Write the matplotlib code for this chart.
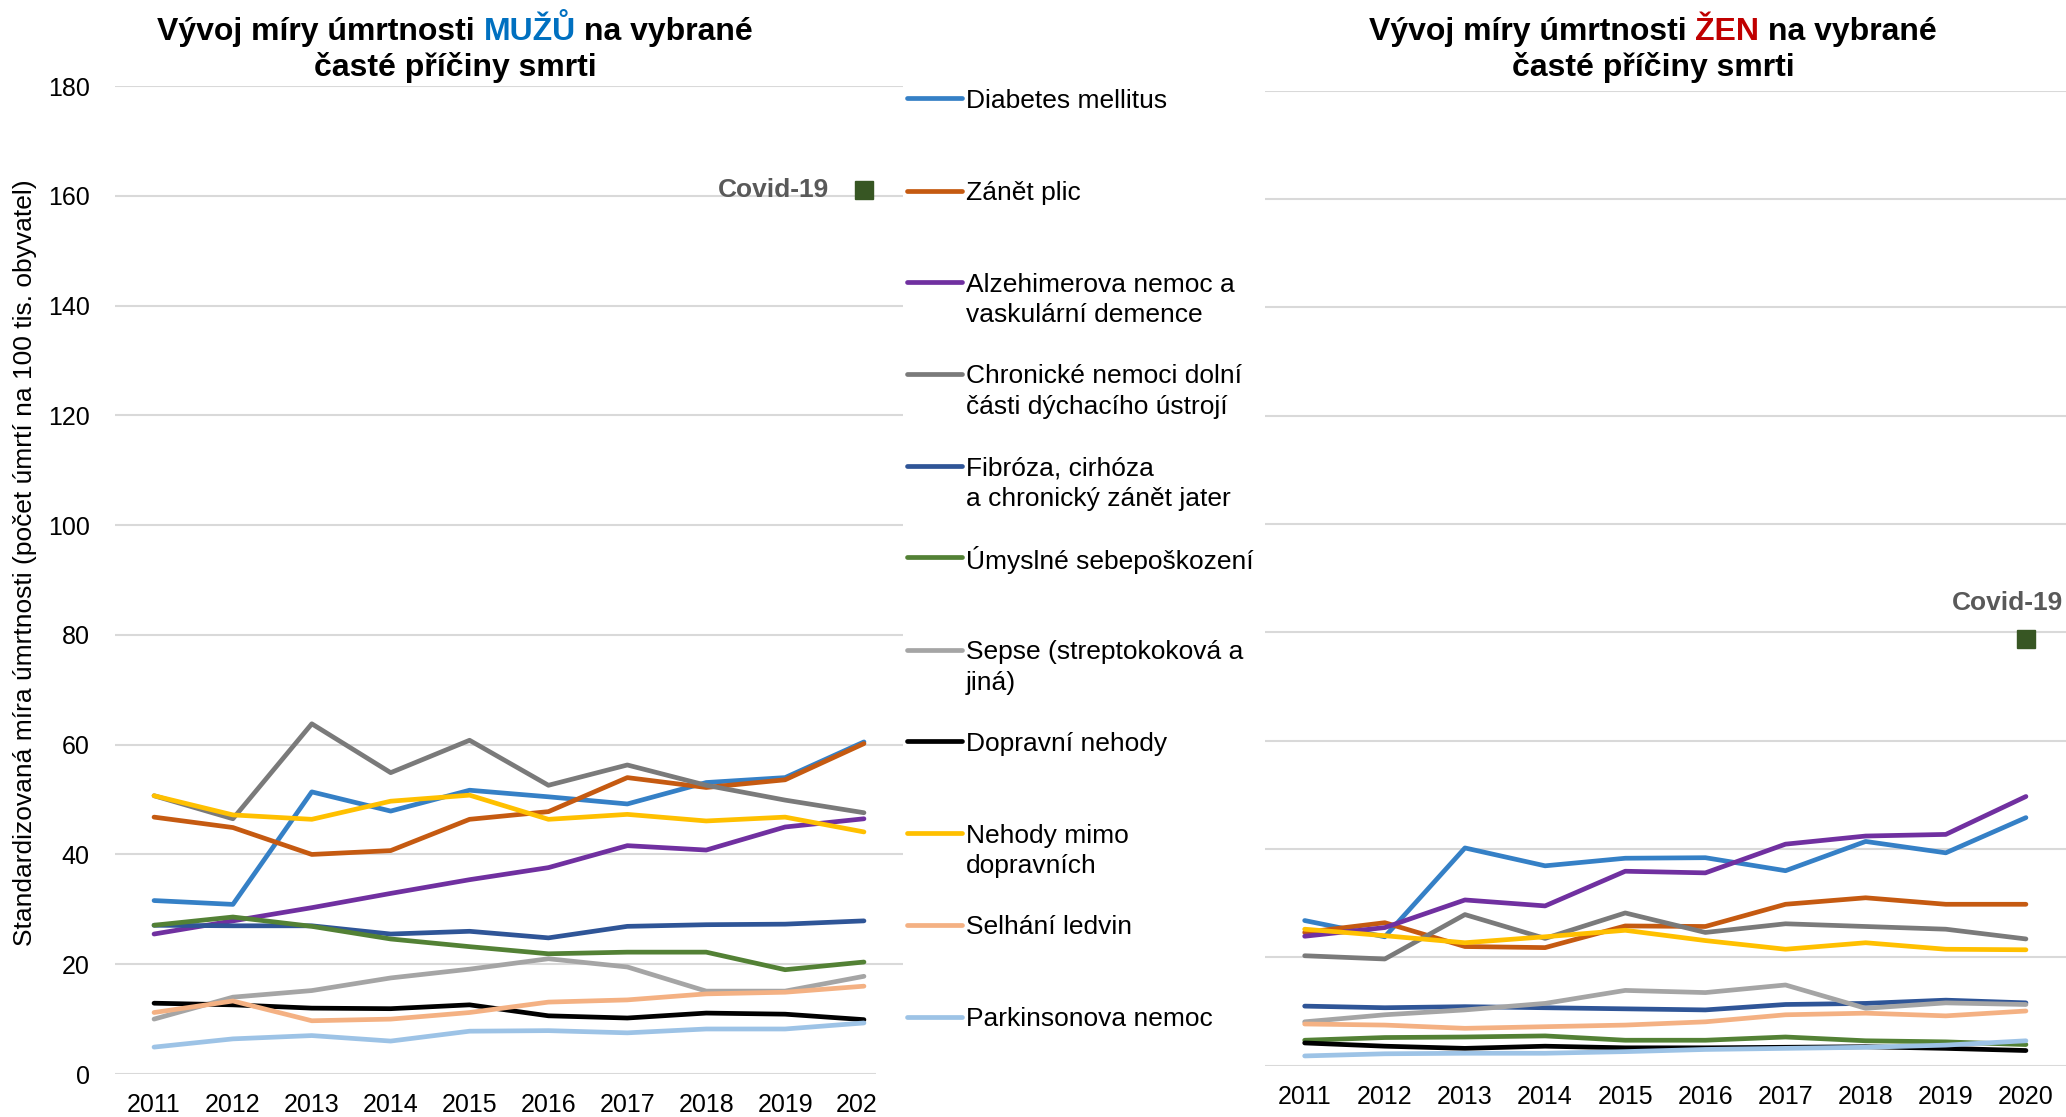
import matplotlib
matplotlib.use("Agg")
import matplotlib.pyplot as plt
from matplotlib.lines import Line2D
from matplotlib.patches import Rectangle
from matplotlib.transforms import IdentityTransform

plt.rcParams['font.family'] = ['Liberation Sans', 'DejaVu Sans']

years = [2011, 2012, 2013, 2014, 2015, 2016, 2017, 2018, 2019, 2020]

labels = [
    "Diabetes mellitus",
    "Zánět plic",
    "Alzehimerova nemoc a\nvaskulární demence",
    "Chronické nemoci dolní\nčásti dýchacího ústrojí",
    "Fibróza, cirhóza\na chronický zánět jater",
    "Úmyslné sebepoškození",
    "Sepse (streptokoková a\njiná)",
    "Dopravní nehody",
    "Nehody mimo\ndopravních",
    "Selhání ledvin",
    "Parkinsonova nemoc",
]

colors = ["#3580C6", "#C55A11", "#7030A0", "#7A7A7A", "#2F5597", "#538135",
          "#A5A5A5", "#000000", "#FFC000", "#F4B183", "#9DC3E6"]

# Men (MUŽI)
men_diabetes = [31.6, 30.9, 51.4, 47.9, 51.7, 50.5, 49.2, 53.1, 54.0, 60.5]
men_pneumonia = [46.8, 44.9, 40.0, 40.7, 46.4, 47.8, 54.0, 52.2, 53.6, 60.2]
men_alzheimer = [25.5, 27.9, 30.3, 32.9, 35.4, 37.6, 41.6, 40.8, 45.0, 46.5]
men_chronic = [50.7, 46.5, 63.8, 54.9, 60.8, 52.6, 56.3, 52.6, 49.9, 47.6]
men_fibrosis = [27.1, 27.0, 27.0, 25.5, 26.0, 24.8, 26.9, 27.2, 27.3, 27.9]
men_suicide = [27.1, 28.6, 26.9, 24.6, 23.2, 21.9, 22.2, 22.2, 19.0, 20.4]
men_sepsis = [10.0, 14.0, 15.2, 17.5, 19.1, 21.0, 19.5, 15.1, 15.1, 17.8]
men_traffic = [12.9, 12.6, 12.0, 11.9, 12.6, 10.6, 10.2, 11.1, 10.9, 9.9]
men_accidents = [50.7, 47.2, 46.4, 49.7, 50.8, 46.4, 47.3, 46.1, 46.8, 44.1]
men_kidney = [11.2, 13.3, 9.7, 10.0, 11.2, 13.1, 13.5, 14.6, 14.9, 16.0]
men_parkinson = [4.9, 6.4, 7.0, 6.0, 7.8, 7.9, 7.5, 8.2, 8.2, 9.3]
men_covid = 161.0

# Women (ŽENY)
women_diabetes = [26.8, 23.8, 40.2, 36.9, 38.3, 38.4, 36.0, 41.4, 39.3, 45.8]
women_pneumonia = [24.6, 26.4, 22.0, 21.8, 25.8, 25.7, 29.8, 31.0, 29.8, 29.8]
women_alzheimer = [23.9, 25.5, 30.6, 29.5, 35.9, 35.6, 40.9, 42.4, 42.7, 49.7]
women_chronic = [20.3, 19.7, 27.9, 23.5, 28.2, 24.6, 26.2, 25.7, 25.2, 23.4]
women_fibrosis = [11.0, 10.7, 10.9, 10.7, 10.5, 10.3, 11.3, 11.5, 12.1, 11.6]
women_suicide = [4.7, 5.2, 5.3, 5.5, 4.7, 4.7, 5.3, 4.6, 4.4, 3.9]
women_sepsis = [8.1, 9.4, 10.3, 11.5, 13.9, 13.5, 14.9, 10.6, 11.6, 11.3]
women_traffic = [4.2, 3.6, 3.2, 3.6, 3.3, 3.3, 3.4, 3.5, 3.2, 2.8]
women_accidents = [25.2, 24.0, 22.7, 23.8, 25.0, 23.1, 21.5, 22.7, 21.5, 21.4]
women_kidney = [7.7, 7.5, 6.9, 7.2, 7.5, 8.1, 9.4, 9.7, 9.2, 10.1]
women_parkinson = [1.8, 2.2, 2.3, 2.3, 2.6, 3.0, 3.2, 3.4, 3.8, 4.6]
women_covid = 78.8

men = [men_diabetes, men_pneumonia, men_alzheimer, men_chronic, men_fibrosis,
       men_suicide, men_sepsis, men_traffic, men_accidents, men_kidney, men_parkinson]
women = [women_diabetes, women_pneumonia, women_alzheimer, women_chronic, women_fibrosis,
         women_suicide, women_sepsis, women_traffic, women_accidents, women_kidney, women_parkinson]

yticks = [0, 20, 40, 60, 80, 100, 120, 140, 160, 180]
ylabel = "Standardizovaná míra úmrtnosti (počet úmrtí na 100 tis. obyvatel)"

W, H = 2066, 1117
fig = plt.figure(figsize=(W / 100, H / 100), dpi=100)

def px_rect(x0, x1, ytop, ybot):
    return [x0 / W, (H - ybot) / H, (x1 - x0) / W, (ybot - ytop) / H]

axL = fig.add_axes(px_rect(114.6, 903.4, 86, 1074))
axR = fig.add_axes(px_rect(1264.6, 2066, 90.7, 1065.7))

xs = list(range(len(years)))
grid_c = "#D9D9D9"
LW = 3.4
for ax, data in ((axL, men), (axR, women)):
    for series, c in zip(data, colors):
        ax.plot(xs, series, color=c, lw=LW, solid_capstyle='round',
                solid_joinstyle='round', zorder=3)
    ax.set_xlim(-0.5, len(years) - 0.5)
    ax.set_ylim(0, 180)
    ax.set_yticks(yticks)
    ax.set_xticks(xs)
    ax.set_xticklabels([str(y) for y in years])
    ax.grid(axis='y', color=grid_c, lw=1.5, zorder=0)
    ax.set_axisbelow(True)
    for s in ax.spines.values():
        s.set_visible(False)
    ax.tick_params(axis='both', length=0, labelsize=18)
    ax.tick_params(axis='x', pad=14)
    ax.tick_params(axis='y', pad=18)
    ax.patch.set_alpha(0)

axR.set_yticklabels([])

# Covid markers
covid_c = "#375623"
axL.plot([9], [men_covid], marker='s', ms=13.5, color=covid_c, ls='none', zorder=4)
axL.annotate("Covid-19", xy=(9, men_covid), xytext=(-35, 0), textcoords='offset pixels',
             ha='right', va='center', fontsize=19, fontweight='bold', color="#595959")
axR.plot([9], [women_covid], marker='s', ms=13.5, color=covid_c, ls='none', zorder=4,
         clip_on=False)
axR.annotate("Covid-19", xy=(9, women_covid), xytext=(-18, 36), textcoords='offset pixels',
             ha='center', va='center', fontsize=19, fontweight='bold', color="#595959")

# Legend area: white box hiding the end of the left axis
fig.patches.append(Rectangle((876, 0), 40, H - 1069, transform=IdentityTransform(),
                             facecolor='white', edgecolor='none', zorder=5))

legend_y = [98.3, 190.7, 282, 373.8, 465.6, 557.4, 650, 741, 833, 924.8, 1016.6]
line_step = 30.6
for lab, c, ly in zip(labels, colors, legend_y):
    fig.lines.append(Line2D([906.7, 961.7], [H - ly, H - ly], transform=IdentityTransform(),
                            color=c, lw=LW, solid_capstyle='round', zorder=6))
    for i, part in enumerate(lab.split("\n")):
        fig.text(966, H - ly - i * line_step, part, transform=IdentityTransform(),
                 fontsize=19, ha='left', va='center_baseline', zorder=6)

# y label
fig.text(25, H - 563, ylabel, transform=IdentityTransform(), rotation=90,
         ha='center', va='center', fontsize=19)

# Titles with coloured words
renderer = fig.canvas.get_renderer()

def text_width(s, **kw):
    t = fig.text(0, 0, s, fontsize=23, fontweight='bold', **kw)
    w = t.get_window_extent(renderer).width
    t.remove()
    return w

space_w = text_width("a a") - text_width("aa")

def rich_line(xc, ybase, parts):
    widths = [text_width(s) for s, _ in parts]
    total = sum(widths) + space_w * (len(parts) - 1)
    x = xc - total / 2
    for (s, c), w in zip(parts, widths):
        fig.text(x, H - ybase, s, transform=IdentityTransform(), fontsize=23,
                 fontweight='bold', color=c, ha='left', va='baseline')
        x += w + space_w

rich_line(455, 40, [("Vývoj míry úmrtnosti", "black"), ("MUŽŮ", "#0070C0"),
                    ("na vybrané", "black")])
rich_line(455, 76, [("časté příčiny smrti", "black")])
rich_line(1653, 40, [("Vývoj míry úmrtnosti", "black"), ("ŽEN", "#C00000"),
                     ("na vybrané", "black")])
rich_line(1653, 76, [("časté příčiny smrti", "black")])

fig.savefig("out.png", dpi=100, facecolor='white')
